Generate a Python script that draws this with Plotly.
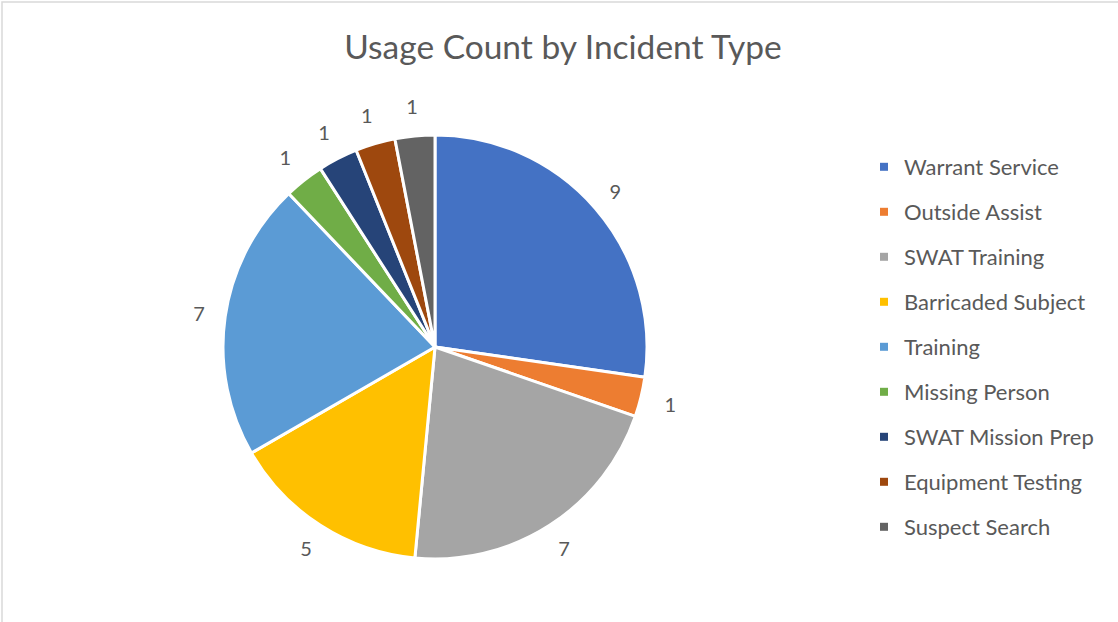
import plotly.graph_objects as go

categories = ["Warrant Service", "Outside Assist", "SWAT Training", "Barricaded Subject",
              "Training", "Missing Person", "SWAT Mission Prep", "Equipment Testing",
              "Suspect Search"]
counts = [9, 1, 7, 5, 7, 1, 1, 1, 1]
colors = ["#4472C4", "#ED7D31", "#A5A5A5", "#FFC000", "#5B9BD5",
          "#70AD47", "#264478", "#9E480E", "#636363"]

W, H = 1118, 622
TXT = "#595959"
FONT = "Lato"

cx, cy, r = 435, 347, 212
r_lab = 265

fig = go.Figure()

# main pie
fig.add_trace(go.Pie(
    labels=categories, values=counts, sort=False, direction="clockwise", rotation=0,
    marker=dict(colors=colors, line=dict(color="white", width=3)),
    textinfo="none", showlegend=False,
    domain=dict(x=[(cx - r) / W, (cx + r) / W], y=[(H - cy - r) / H, (H - cy + r) / H]),
    hovertemplate="%{label}: %{value}<extra></extra>",
))

# transparent ring carrying the value labels outside the pie
fig.add_trace(go.Pie(
    labels=categories, values=counts, sort=False, direction="clockwise", rotation=0,
    hole=r / r_lab,
    marker=dict(colors=["rgba(0,0,0,0)"] * len(counts), line=dict(width=0)),
    textinfo="value", textposition="inside", insidetextorientation="horizontal",
    textfont=dict(family=FONT, size=20, color=TXT),
    showlegend=False, hoverinfo="skip",
    domain=dict(x=[(cx - r_lab) / W, (cx + r_lab) / W],
                y=[(H - cy - r_lab) / H, (H - cy + r_lab) / H]),
))

# legend entries
for i, (c, col) in enumerate(zip(categories, colors)):
    fig.add_trace(go.Scatter(
        x=[None], y=[None], mode="markers", name=c, legendgroup=str(i),
        marker=dict(symbol="square", size=8, color=col),
        hoverinfo="skip",
    ))

fig.update_layout(
    width=W, height=H,
    margin=dict(l=0, r=0, t=0, b=0),
    paper_bgcolor="white", plot_bgcolor="white",
    title=dict(text="Usage Count by Incident Type", x=563 / W, xanchor="center",
               y=1 - 47 / H, yanchor="middle",
               font=dict(family=FONT, size=33.5, color=TXT)),
    font=dict(family=FONT, color=TXT),
    xaxis=dict(visible=False), yaxis=dict(visible=False),
    legend=dict(x=864 / W, xanchor="left", y=1 - 146 / H, yanchor="top",
                font=dict(family=FONT, size=22, color=TXT),
                tracegroupgap=13.4, bgcolor="rgba(0,0,0,0)"),
    shapes=[dict(type="rect", xref="paper", yref="paper",
                 x0=2 / W, x1=1.05, y0=-0.05, y1=1 - 2 / H,
                 line=dict(color="#D9D9D9", width=1.5), layer="below")],
)

fig.write_html("out.html", config={"displayModeBar": False},
               post_script="document.body.style.margin='0';")
